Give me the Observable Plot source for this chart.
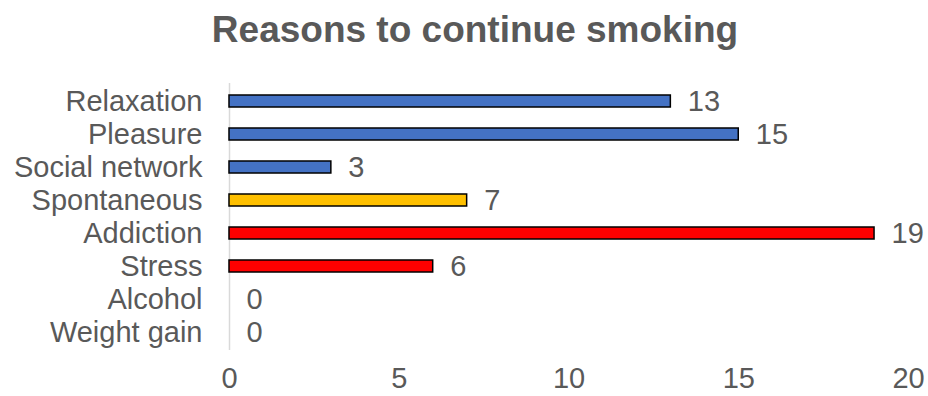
<!DOCTYPE html>
<html>
<head>
<meta charset="utf-8">
<script src="https://cdn.jsdelivr.net/npm/d3@7"></script>
<script src="https://cdn.jsdelivr.net/npm/@observablehq/plot@0.6"></script>
<style>
  html, body { margin: 0; padding: 0; background: #fff; }
  #title {
    width: 928px; box-sizing: border-box; padding-left: 22px;
    height: 60px; line-height: 60px; text-align: center;
    font-family: "Liberation Sans", Arial, sans-serif; font-weight: bold;
    font-size: 37px; color: #595959; white-space: nowrap;
  }
</style>
</head>
<body>
<div id="title">Reasons to continue smoking</div>
<div id="chart"></div>
<script>
const categories = ["Relaxation", "Pleasure", "Social network", "Spontaneous", "Addiction", "Stress", "Alcohol", "Weight gain"];
const values = [13, 15, 3, 7, 19, 6, 0, 0];
const groups = ["A", "A", "A", "B", "C", "C", "C", "C"];
const groupDomain = ["A", "B", "C"];
const groupColors = ["#4472C4", "#FFC000", "#FF0000"];
const xTicks = [0, 5, 10, 15, 20];

const data = categories.map((c, i) => ({category: c, value: values[i], group: groups[i]}));

const chart = Plot.plot({
  width: 928,
  height: 336,
  marginLeft: 229,
  marginRight: 20,
  marginTop: 23,
  marginBottom: 46,
  style: {fontFamily: "'Liberation Sans', Arial, sans-serif", fontSize: "29px", color: "#595959", background: "#fff", overflow: "visible"},
  x: {domain: [0, 20], ticks: xTicks, label: null},
  y: {domain: categories, paddingInner: 0.64, paddingOuter: 0.32, label: null},
  color: {domain: groupDomain, range: groupColors},
  marks: [
    Plot.axisX({ticks: xTicks, tickSize: 0, tickPadding: 17, fontSize: 29, fill: "#595959", label: null}),
    Plot.axisY({tickSize: 0, tickPadding: 27, fontSize: 29, fill: "#595959", label: null}),
    Plot.ruleX([0], {stroke: "#D9D9D9", strokeWidth: 1.5}),
    Plot.barX(data.filter(d => d.value > 0), {x: "value", y: "category", fill: "group", stroke: "#000", strokeWidth: 1.5}),
    Plot.text(data, {x: "value", y: "category", text: d => String(d.value), textAnchor: "start", dx: 17, fontSize: 29, fill: "#595959"})
  ]
});
document.getElementById("chart").appendChild(chart);
</script>
</body>
</html>
